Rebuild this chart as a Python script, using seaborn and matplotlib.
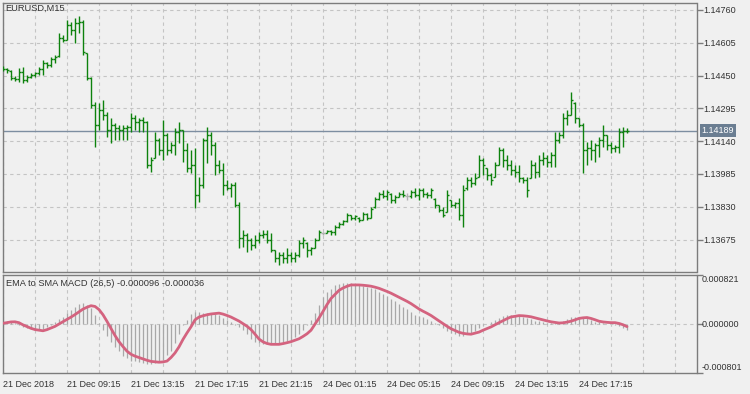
import numpy as np
import matplotlib
matplotlib.use("Agg")
import matplotlib.pyplot as plt
import seaborn as sns

# EURUSD M15 bars, 21 Dec 2018 05:15 onwards
opens = [1.14486, 1.14481, 1.14471, 1.14438, 1.14434, 1.14467, 1.14429, 1.14443, 1.14452, 1.14462,
         1.14481, 1.14509, 1.14500, 1.14528, 1.14542, 1.14627, 1.14618, 1.14689, 1.14665, 1.14698,
         1.14703, 1.14556, 1.14438, 1.14311, 1.14216, 1.14287, 1.14263, 1.14193, 1.14216, 1.14202,
         1.14193, 1.14202, 1.14207, 1.14249, 1.14230, 1.14240, 1.14230, 1.14027, 1.14060, 1.14145,
         1.14098, 1.14169, 1.14098, 1.14122, 1.14183, 1.14193, 1.14098, 1.14013, 1.14027, 1.13885,
         1.13933, 1.14145, 1.14169, 1.14122, 1.14027, 1.14004, 1.13933, 1.13918, 1.13933, 1.13838,
         1.13682, 1.13696, 1.13673, 1.13649, 1.13673, 1.13696, 1.13701, 1.13673, 1.13625, 1.13588,
         1.13602, 1.13588, 1.13602, 1.13588, 1.13602, 1.13659, 1.13659, 1.13625, 1.13635, 1.13673,
         1.13706, 1.13706, 1.13715, 1.13711, 1.13734, 1.13748, 1.13763, 1.13791, 1.13777, 1.13777,
         1.13767, 1.13796, 1.13777, 1.13829, 1.13866, 1.13890, 1.13881, 1.13890, 1.13862, 1.13876,
         1.13890, 1.13881, 1.13881, 1.13900, 1.13885, 1.13909, 1.13890, 1.13885, 1.13866, 1.13838,
         1.13815, 1.13805, 1.13862, 1.13838, 1.13848, 1.13791, 1.13918, 1.13956, 1.13942, 1.13970,
         1.14051, 1.14013, 1.13980, 1.13970, 1.14027, 1.14098, 1.14051, 1.14027, 1.14004, 1.13994,
         1.13966, 1.13956, 1.13966, 1.14027, 1.13994, 1.14051, 1.14060, 1.14041, 1.14074, 1.14145,
         1.14169, 1.14249, 1.14263, 1.14320, 1.14249, 1.14216, 1.14098, 1.14108, 1.14098, 1.14122,
         1.14145, 1.14169, 1.14122, 1.14108, 1.14112, 1.14183, 1.14188]
highs = [1.14495, 1.14486, 1.14476, 1.14448, 1.14486, 1.14490, 1.14452, 1.14462, 1.14467, 1.14490,
         1.14523, 1.14514, 1.14538, 1.14547, 1.14651, 1.14642, 1.14712, 1.14703, 1.14722, 1.14731,
         1.14712, 1.14556, 1.14443, 1.14325, 1.14320, 1.14334, 1.14278, 1.14249, 1.14226, 1.14216,
         1.14216, 1.14216, 1.14273, 1.14263, 1.14249, 1.14254, 1.14235, 1.14065, 1.14183, 1.14155,
         1.14240, 1.14178, 1.14136, 1.14202, 1.14230, 1.14193, 1.14131, 1.14098, 1.14108, 1.13970,
         1.14155, 1.14207, 1.14183, 1.14136, 1.14051, 1.14037, 1.13956, 1.13942, 1.13947, 1.13852,
         1.13720, 1.13706, 1.13682, 1.13696, 1.13711, 1.13720, 1.13720, 1.13706, 1.13625, 1.13616,
         1.13616, 1.13635, 1.13616, 1.13616, 1.13673, 1.13687, 1.13663, 1.13640, 1.13682, 1.13720,
         1.13711, 1.13720, 1.13720, 1.13744, 1.13758, 1.13767, 1.13800, 1.13791, 1.13791, 1.13781,
         1.13805, 1.13800, 1.13829, 1.13876, 1.13900, 1.13909, 1.13909, 1.13895, 1.13885, 1.13900,
         1.13909, 1.13895, 1.13909, 1.13918, 1.13918, 1.13918, 1.13900, 1.13918, 1.13871, 1.13838,
         1.13829, 1.13909, 1.13862, 1.13852, 1.13871, 1.13933, 1.13970, 1.13970, 1.13989, 1.14074,
         1.14060, 1.14013, 1.13989, 1.14041, 1.14112, 1.14108, 1.14074, 1.14051, 1.14027, 1.14027,
         1.13970, 1.13970, 1.14051, 1.14041, 1.14074, 1.14089, 1.14074, 1.14089, 1.14183, 1.14183,
         1.14273, 1.14287, 1.14372, 1.14325, 1.14249, 1.14226, 1.14136, 1.14145, 1.14131, 1.14160,
         1.14216, 1.14169, 1.14136, 1.14122, 1.14202, 1.14207, 1.14202]
lows = [1.14471, 1.14462, 1.14429, 1.14424, 1.14419, 1.14415, 1.14419, 1.14438, 1.14443, 1.14452,
        1.14452, 1.14486, 1.14490, 1.14509, 1.14538, 1.14608, 1.14618, 1.14642, 1.14604, 1.14651,
        1.14547, 1.14429, 1.14297, 1.14112, 1.14193, 1.14240, 1.14160, 1.14131, 1.14145, 1.14145,
        1.14145, 1.14145, 1.14183, 1.14193, 1.14183, 1.14183, 1.14013, 1.13994, 1.14060, 1.14074,
        1.14051, 1.14074, 1.14084, 1.14074, 1.14131, 1.14041, 1.13994, 1.13989, 1.13824, 1.13852,
        1.13918, 1.14037, 1.14074, 1.13980, 1.13989, 1.13885, 1.13909, 1.13876, 1.13829, 1.13635,
        1.13640, 1.13616, 1.13625, 1.13635, 1.13659, 1.13682, 1.13659, 1.13616, 1.13569, 1.13555,
        1.13564, 1.13564, 1.13569, 1.13569, 1.13592, 1.13635, 1.13592, 1.13602, 1.13635, 1.13673,
        1.13696, 1.13706, 1.13696, 1.13696, 1.13729, 1.13744, 1.13758, 1.13767, 1.13767, 1.13758,
        1.13767, 1.13767, 1.13777, 1.13824, 1.13862, 1.13871, 1.13862, 1.13848, 1.13848, 1.13876,
        1.13876, 1.13862, 1.13871, 1.13876, 1.13862, 1.13876, 1.13871, 1.13871, 1.13824, 1.13805,
        1.13781, 1.13805, 1.13829, 1.13824, 1.13767, 1.13734, 1.13909, 1.13923, 1.13933, 1.13970,
        1.13980, 1.13956, 1.13933, 1.13970, 1.14027, 1.14018, 1.14004, 1.13980, 1.13970, 1.13947,
        1.13942, 1.13876, 1.13966, 1.13966, 1.13970, 1.14027, 1.14018, 1.14018, 1.14018, 1.14131,
        1.14155, 1.14216, 1.14263, 1.14226, 1.14207, 1.13989, 1.14027, 1.14051, 1.14041, 1.14065,
        1.14112, 1.14098, 1.14084, 1.14089, 1.14084, 1.14112, 1.14178]
closes = [1.14481, 1.14476, 1.14438, 1.14434, 1.14467, 1.14429, 1.14443, 1.14452, 1.14462, 1.14481,
          1.14509, 1.14500, 1.14528, 1.14538, 1.14627, 1.14618, 1.14689, 1.14665, 1.14698, 1.14703,
          1.14561, 1.14438, 1.14311, 1.14216, 1.14287, 1.14263, 1.14193, 1.14216, 1.14202, 1.14193,
          1.14202, 1.14207, 1.14249, 1.14230, 1.14240, 1.14230, 1.14027, 1.14051, 1.14145, 1.14098,
          1.14169, 1.14098, 1.14122, 1.14183, 1.14193, 1.14098, 1.14013, 1.14027, 1.13885, 1.13933,
          1.14145, 1.14169, 1.14122, 1.14027, 1.14004, 1.13933, 1.13918, 1.13933, 1.13838, 1.13682,
          1.13696, 1.13673, 1.13649, 1.13673, 1.13696, 1.13701, 1.13673, 1.13625, 1.13588, 1.13602,
          1.13588, 1.13602, 1.13588, 1.13602, 1.13659, 1.13673, 1.13625, 1.13635, 1.13673, 1.13711,
          1.13706, 1.13715, 1.13711, 1.13734, 1.13748, 1.13763, 1.13791, 1.13777, 1.13786, 1.13767,
          1.13796, 1.13777, 1.13819, 1.13866, 1.13890, 1.13881, 1.13900, 1.13862, 1.13876, 1.13890,
          1.13885, 1.13881, 1.13900, 1.13885, 1.13909, 1.13890, 1.13885, 1.13909, 1.13838, 1.13815,
          1.13791, 1.13885, 1.13838, 1.13848, 1.13791, 1.13909, 1.13956, 1.13942, 1.13966, 1.14051,
          1.14027, 1.13980, 1.13956, 1.14027, 1.14098, 1.14051, 1.14027, 1.14004, 1.13994, 1.13966,
          1.13956, 1.13909, 1.14027, 1.13994, 1.14051, 1.14060, 1.14041, 1.14074, 1.14145, 1.14169,
          1.14249, 1.14263, 1.14334, 1.14249, 1.14216, 1.14098, 1.14108, 1.14098, 1.14122, 1.14145,
          1.14169, 1.14122, 1.14108, 1.14112, 1.14183, 1.14188, 1.14189]

# EMA to SMA MACD (26,5), values in millionths
macd_hist_e6 = [59, 59, 52, 24, -8, -42, -61, -78, -88, -88,
                -76, -47, -14, 47, 85, 127, 194, 248, 292, 333,
                357, 330, 275, 161, 25, -90, -188, -284, -375, -443,
                -517, -564, -600, -612, -625, -647, -664, -664, -646, -625,
                -588, -515, -439, -309, -157, -8, 76, 174, 199, 199,
                189, 189, 189, 177, 149, 105, 81, 42, -8, -49,
                -93, -161, -245, -287, -313, -330, -330, -330, -324, -308,
                -291, -274, -254, -215, -165, -95, -10, 80, 190, 320,
                448, 532, 586, 651, 678, 684, 684, 681, 668, 654,
                642, 629, 600, 583, 546, 507, 465, 419, 385, 341,
                296, 250, 206, 161, 137, 117, 93, 64, 20, -17,
                -59, -105, -135, -161, -188, -186, -166, -135, -105, -57,
                -17, 14, 39, 76, 110, 135, 154, 161, 161, 147,
                127, 101, 83, 64, 51, 34, 24, 20, 20, 29,
                59, 93, 117, 132, 132, 122, 100, 68, 47, 37,
                25, 15, 5, -8, -32, -64, -96]
macd_signal_e6 = [20, 30, 42, 44, 29, -7, -35, -64, -85, -95,
                  -105, -86, -59, -32, 8, 46, 83, 122, 164, 210,
                  255, 286, 311, 299, 247, 161, 51, -66, -184, -286,
                  -368, -444, -495, -526, -549, -571, -595, -613, -620, -627,
                  -622, -608, -549, -473, -372, -248, -140, -39, 76, 123,
                  144, 161, 174, 181, 188, 172, 149, 123, 90, 56,
                  14, -30, -85, -161, -242, -289, -316, -330, -330, -330,
                  -318, -303, -286, -262, -238, -199, -155, -96, 5, 106,
                  216, 330, 431, 499, 566, 605, 634, 656, 656, 656,
                  651, 644, 635, 619, 600, 574, 548, 519, 485, 451,
                  417, 384, 346, 301, 257, 220, 186, 149, 103, 59,
                  14, -30, -71, -101, -130, -147, -157, -162, -144, -127,
                  -96, -69, -41, -5, 29, 63, 96, 125, 135, 147,
                  144, 137, 127, 110, 93, 76, 59, 44, 34, 24,
                  27, 39, 54, 76, 100, 110, 115, 100, 78, 54,
                  42, 35, 30, 30, 17, -5, -36]

time_labels = ['21 Dec 2018', '21 Dec 09:15', '21 Dec 13:15', '21 Dec 17:15', '21 Dec 21:15',
               '24 Dec 01:15', '24 Dec 05:15', '24 Dec 09:15', '24 Dec 13:15', '24 Dec 17:15']
price_ticks = [1.14760, 1.14605, 1.14450, 1.14295, 1.14140, 1.13985, 1.13830, 1.13675]
last_price = 1.14189
macd_max, macd_min = 0.000821, -0.000801

sns.set_style("white")
plt.rcParams['font.family'] = ['Liberation Sans', 'DejaVu Sans']
plt.rcParams['font.size'] = 6.5

bg = '#f0f0f0'
grid_c = '#c4c4c4'
frame_c = '#7c7c7c'
text_c = '#333333'
bar_c = '#0d820d'
doji_c = '#b0b0b0'

n = len(closes)
idx = np.arange(n)
o = np.array(opens); h = np.array(highs); l = np.array(lows); c = np.array(closes)
hist = np.array(macd_hist_e6) * 1e-6
signal = np.array(macd_signal_e6) * 1e-6

W, H = 750, 394
def rect(left, top, right, bottom):
    return [left / W, 1 - bottom / H, (right - left) / W, (bottom - top) / H]

fig = plt.figure(figsize=(7.5, 3.94), dpi=100, facecolor=bg)
ax_p = fig.add_axes(rect(2.5, 2.5, 696.5, 272))
ax_m = fig.add_axes(rect(2.5, 275, 696.5, 372.7))

xlim = (-0.125, 173.375)
dash = (0, (3, 3))

# ---- price panel
ax_p.set_facecolor(bg)
for k in range(0, 174, 8):
    ax_p.axvline(k, color=grid_c, lw=0.8, ls=dash, zorder=0)
for t in price_ticks:
    ax_p.axhline(t, color=grid_c, lw=0.8, ls=dash, zorder=0)

cols = [doji_c if oo == cc else bar_c for oo, cc in zip(opens, closes)]
ax_p.vlines(idx, l, h, colors=cols, lw=1.0, zorder=3)
ax_p.hlines(o, idx - 0.45, idx, colors=cols, lw=1.0, zorder=3)
ax_p.hlines(c, idx, idx + 0.45, colors=cols, lw=1.0, zorder=3)

ax_p.axhline(last_price, color='#7d8ea1', lw=1.0, zorder=2)
ax_p.annotate(f'{last_price:.5f}', xy=(1, last_price), xycoords=('axes fraction', 'data'),
              xytext=(5, 0), textcoords='offset pixels', ha='left', va='center', color='white',
              bbox=dict(boxstyle='square,pad=0.2', fc='#6b7e92', ec='none'), zorder=5,
              annotation_clip=False)

ax_p.set_xlim(*xlim)
ax_p.set_ylim(1.135215, 1.147952)
ax_p.set_xticks([])
ax_p.set_yticks(price_ticks)
ax_p.set_yticklabels([f'{t:.5f}' for t in price_ticks])
ax_p.yaxis.tick_right()
ax_p.tick_params(axis='y', direction='out', length=4, width=1, color=frame_c,
                 labelcolor=text_c, pad=1.2)
ax_p.annotate('EURUSD,M15', xy=(0, 1), xycoords='axes fraction', xytext=(3, -6),
              textcoords='offset pixels', ha='left', va='center', color=text_c, fontsize=6.7)

# ---- MACD panel
ax_m.set_facecolor(bg)
for k in range(0, 174, 8):
    ax_m.axvline(k, color=grid_c, lw=0.8, ls=dash, zorder=0)
ax_m.axhline(0, color=grid_c, lw=0.8, ls=dash, zorder=0)

ax_m.vlines(idx, 0, hist, colors='#a8a8a8', lw=0.9, zorder=2)
sns.lineplot(x=idx, y=signal, ax=ax_m, color='#d4637f', linewidth=2.0, legend=False, zorder=3)

ax_m.set_xlim(*xlim)
ax_m.set_ylim(macd_min, macd_max)
ax_m.set_xlabel('')
ax_m.set_ylabel('')
ax_m.set_yticks([macd_max, 0, macd_min])
ax_m.set_yticklabels(['', '', ''])
ax_m.yaxis.tick_right()
ax_m.tick_params(axis='y', direction='out', length=4, width=1, color=frame_c)
for val, dy in [(macd_max, -5), (0.0, 0), (macd_min, 5)]:
    ax_m.annotate(f'{val:.6f}', xy=(1, val), xycoords=('axes fraction', 'data'),
                  xytext=(5, dy), textcoords='offset pixels', ha='left', va='center',
                  color=text_c, annotation_clip=False)

ax_m.set_xticks(np.arange(0, 16 * len(time_labels), 16))
ax_m.set_xticklabels(time_labels)
ax_m.tick_params(axis='x', direction='out', length=4, width=1, color=frame_c,
                 labelcolor=text_c, pad=1.5)
for lbl in ax_m.get_xticklabels():
    lbl.set_horizontalalignment('left')
ax_m.annotate('EMA to SMA MACD (26,5) -0.000096 -0.000036', xy=(0, 1), xycoords='axes fraction',
              xytext=(3, -9), textcoords='offset pixels', ha='left', va='center',
              color=text_c, fontsize=6.7)

for ax in (ax_p, ax_m):
    for s in ax.spines.values():
        s.set_color(frame_c)
        s.set_linewidth(1.0)

fig.savefig('out.png', dpi=100, facecolor=bg)
